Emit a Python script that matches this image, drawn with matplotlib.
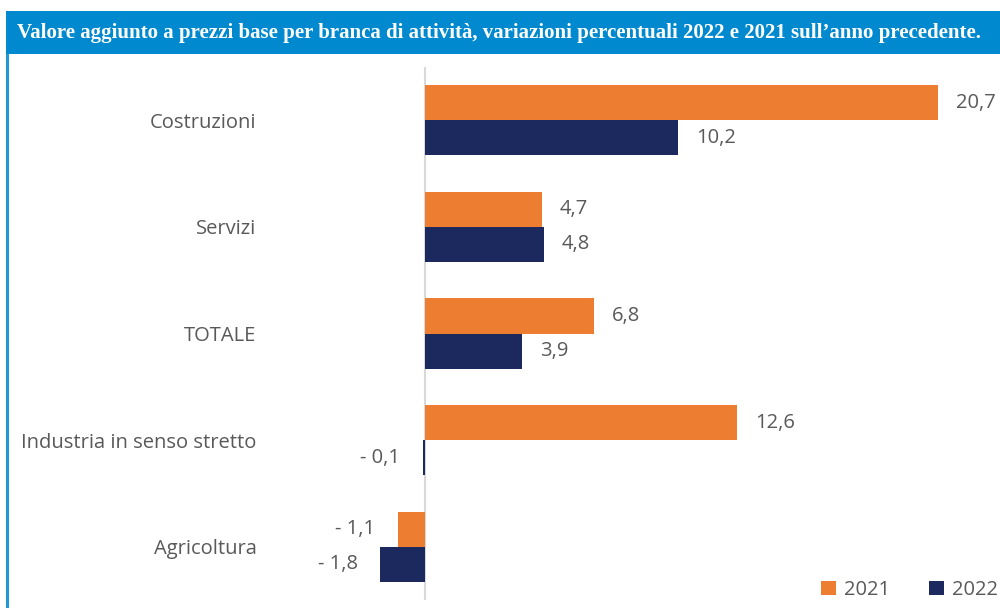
import matplotlib
matplotlib.use("Agg")
import matplotlib.pyplot as plt
from matplotlib.patches import Rectangle

# dati
categorie = ["Costruzioni", "Servizi", "TOTALE", "Industria in senso stretto", "Agricoltura"]
val_2021 = [20.7, 4.7, 6.8, 12.6, -1.1]
val_2022 = [10.2, 4.8, 3.9, -0.1, -1.8]
serie = ["2021", "2022"]
titolo = "Valore aggiunto a prezzi base per branca di attività, variazioni percentuali 2022 e 2021 sull’anno precedente."

ARANCIO = "#ED7D31"
BLU_SCURO = "#1B295E"
BLU_BANNER = "#0089CF"
BLU_BORDO = "#1E9BD7"
GRIGIO = "#595959"

W, H = 1000, 608
fig = plt.figure(figsize=(W / 100, H / 100), dpi=100)

# banner e bordo sinistro
fig.patches.append(Rectangle((6 / W, 1 - 54 / H), 1, 43 / H, transform=fig.transFigure,
                             facecolor=BLU_BANNER, edgecolor="none"))
fig.patches.append(Rectangle((6 / W, 0), 2.5 / W, 1 - 54 / H, transform=fig.transFigure,
                             facecolor=BLU_BORDO, edgecolor="none"))
fig.text(17 / W, 1 - 33 / H, titolo, color="white", fontsize=15.05, fontweight="bold",
         family="Liberation Serif", va="center", ha="left")

# area del grafico
px_unit = 24.8
x0, x1 = 265, 1000
ax = fig.add_axes([x0 / W, 1 - 600 / H, (x1 - x0) / W, (600 - 67) / H])
ax.set_xlim(-(425 - x0) / px_unit, (x1 - 425) / px_unit)
ax.set_ylim(len(categorie) - 0.5, -0.5)

pos = list(range(len(categorie)))
h = 0.33
b1 = ax.barh([p - h / 2 for p in pos], val_2021, height=h, color=ARANCIO, label=serie[0])
b2 = ax.barh([p + h / 2 for p in pos], val_2022, height=h, color=BLU_SCURO, label=serie[1])

font_lab = dict(family="Open Sans", fontsize=14.5, color=GRIGIO)

def etichetta(v):
    s = f"{abs(v):.1f}".replace(".", ",")
    return "- " + s if v < 0 else s

for bars, vals in ((b1, val_2021), (b2, val_2022)):
    for r, v in zip(bars, vals):
        y = r.get_y() + r.get_height() / 2
        if v >= 0:
            ax.annotate(etichetta(v), (v, y), xytext=(13, 0), textcoords="offset points",
                        ha="left", va="center", **font_lab)
        else:
            ax.annotate(etichetta(v), (v, y), xytext=(-16, 0), textcoords="offset points",
                        ha="right", va="center", **font_lab)

ax.axvline(0, color="#D9D9D9", lw=1.5, zorder=0)
ax.set_yticks(pos)
ax.set_yticklabels(categorie, **font_lab)
ax.tick_params(axis="y", length=0, pad=6)
ax.set_xticks([])
for s in ax.spines.values():
    s.set_visible(False)

leg = fig.legend(handles=[b1, b2], labels=serie, loc="center right",
                 bbox_to_anchor=(1.0, 1 - 590 / H), ncol=2, frameon=False,
                 prop=dict(family="Open Sans", size=14.5), handlelength=0.75, handleheight=0.75,
                 handletextpad=0.4, columnspacing=1.9, borderaxespad=0.0, borderpad=0.1)
for t in leg.get_texts():
    t.set_color(GRIGIO)

fig.savefig("out.png", dpi=100)
